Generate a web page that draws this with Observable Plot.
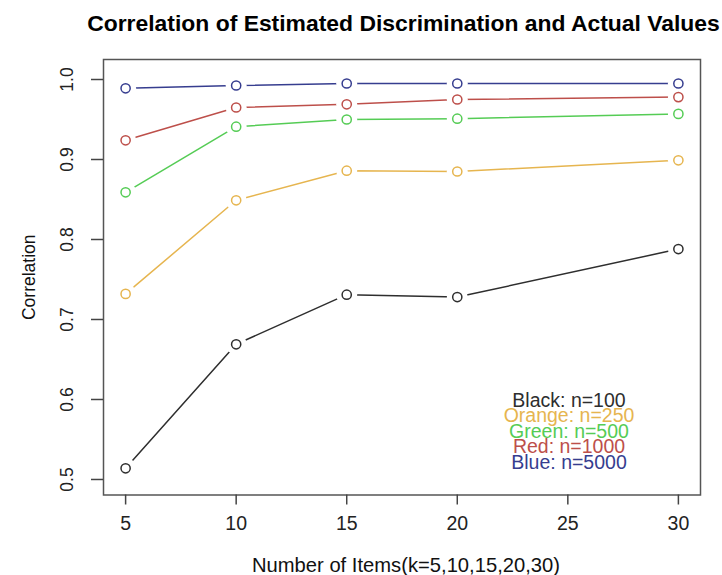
<!DOCTYPE html>
<html>
<head>
<meta charset="utf-8">
<script src="https://cdn.jsdelivr.net/npm/d3@7"></script>
<script src="https://cdn.jsdelivr.net/npm/@observablehq/plot@0.6"></script>
<style>
  html, body { margin: 0; padding: 0; background: #fff; }
  #chart svg { display: block; }
</style>
</head>
<body>
<div id="chart"></div>
<script>
// ---- data ----
const items = [5, 10, 15, 20, 30];
const seriesNames = ["Black: n=100", "Orange: n=250", "Green: n=500", "Red: n=1000", "Blue: n=5000"];
const seriesColors = ["#2e2e2e", "#e6b54f", "#55cc55", "#bd4f4a", "#363d8f"];
const n100  = [0.514, 0.669, 0.731, 0.728, 0.788];
const n250  = [0.732, 0.849, 0.886, 0.885, 0.899];
const n500  = [0.859, 0.941, 0.950, 0.951, 0.957];
const n1000 = [0.924, 0.965, 0.969, 0.975, 0.978];
const n5000 = [0.989, 0.9925, 0.995, 0.995, 0.995];
const xTicks = [5, 10, 15, 20, 25, 30];
const yTicks = [0.5, 0.6, 0.7, 0.8, 0.9, 1.0];

const title = "Correlation of Estimated Discrimination and Actual Values";
const xLabel = "Number of Items(k=5,10,15,20,30)";
const yLabel = "Correlation";

const allSeries = [n100, n250, n500, n1000, n5000];
const rows = allSeries.flatMap((vals, si) =>
  vals.map((v, i) => ({k: items[i], r: v, series: seriesNames[si]})));

const font = "'Liberation Sans', Arial, Helvetica, sans-serif";

const legendMarks = seriesNames.map((name, i) =>
  Plot.text([name], {
    text: d => d,
    frameAnchor: "bottom",
    lineAnchor: "middle",
    dx: 167,
    dy: -94.5 + i * 15.5,
    fill: seriesColors[i],
    fontSize: 19.5
  }));

const chart = Plot.plot({
  width: 722,
  height: 575,
  marginLeft: 103,
  marginRight: 22,
  marginTop: 59,
  marginBottom: 80.5,
  style: {fontFamily: font, fontSize: "18px", color: "#111", background: "#fff"},
  x: {domain: [4, 31], axis: null},
  y: {domain: [0.4806, 1.025], axis: null},
  color: {domain: seriesNames, range: seriesColors},
  marks: [
    Plot.line(rows, {x: "k", y: "r", z: "series", stroke: "series", strokeWidth: 1.5}),
    Plot.dot(rows, {x: "k", y: "r", r: 10.5, fill: "white", stroke: null}),
    Plot.dot(rows, {x: "k", y: "r", r: 4.6, stroke: "series", strokeWidth: 1.5, fill: "none"}),
    Plot.frame({stroke: "#555", strokeWidth: 1.5}),
    Plot.axisX({ticks: xTicks, tickSize: 10, tickPadding: 11, tickFormat: d => String(d),
      stroke: "#444", strokeWidth: 1.5, fill: "#222", fontSize: 19.5, label: null}),
    Plot.axisY({ticks: yTicks, tickSize: 12, tickFormat: () => "", stroke: "#444", strokeWidth: 1.5, label: null}),
    Plot.text(yTicks, {y: d => d, text: d => d.toFixed(1), frameAnchor: "left", dx: -31,
      rotate: -90, textAnchor: "middle", lineAnchor: "bottom", fill: "#222", fontSize: 17.5}),
    Plot.text([yLabel], {text: d => d, frameAnchor: "left", dx: -69, rotate: -90,
      textAnchor: "middle", lineAnchor: "bottom", fill: "#111", fontSize: 17.5}),
    Plot.text([xLabel], {text: d => d, frameAnchor: "bottom", dy: 76.5, dx: 4,
      textAnchor: "middle", lineAnchor: "bottom", fill: "#111", fontSize: 20.2}),
    Plot.text([title], {text: d => d, frameAnchor: "top", dy: -29, dx: 1.5,
      textAnchor: "middle", lineAnchor: "bottom", fill: "#000", fontSize: 22.9, fontWeight: "bold"}),
    ...legendMarks
  ]
});

document.getElementById("chart").appendChild(chart);
</script>
</body>
</html>
